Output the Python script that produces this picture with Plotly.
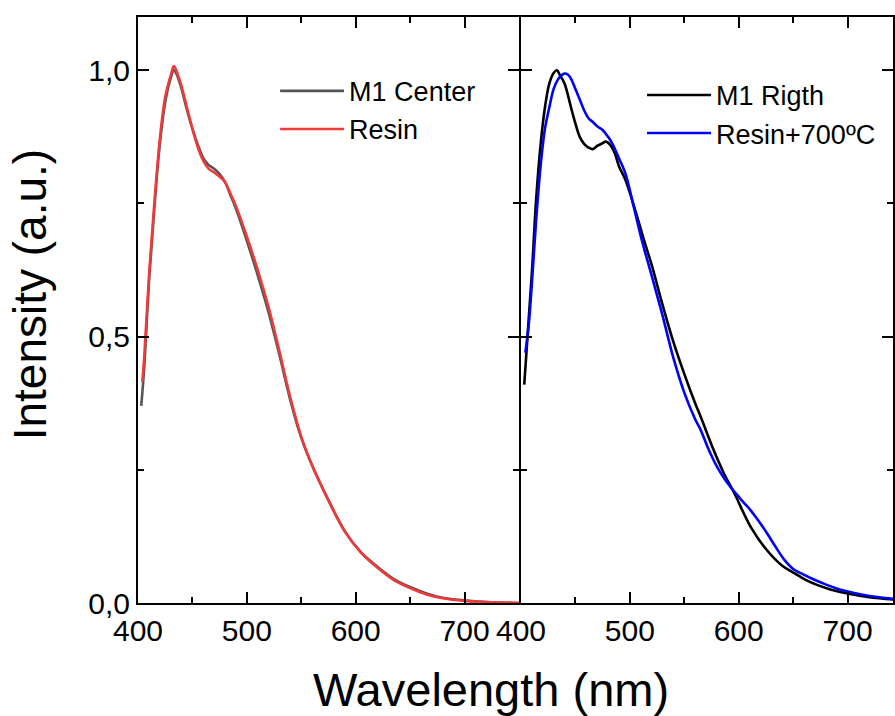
import plotly.graph_objects as go

# Photoluminescence spectra, left panel: centre sample vs. plain resin
wl_center = [403, 406, 410, 415, 420, 425, 430, 433, 436, 440, 445, 450, 455, 460,
             465, 470, 475, 480, 485, 490, 500, 510, 520, 530, 540, 550, 560, 575,
             590, 605, 620, 635, 650, 665, 680, 700, 720, 750]
m1_center = [0.37, 0.45, 0.60, 0.74, 0.86, 0.94, 0.985, 1.0, 0.99, 0.965, 0.925, 0.89,
             0.86, 0.835, 0.822, 0.815, 0.805, 0.79, 0.765, 0.74, 0.68, 0.615, 0.545,
             0.465, 0.38, 0.31, 0.258, 0.193, 0.135, 0.095, 0.068, 0.045, 0.03, 0.018,
             0.01, 0.005, 0.002, 0.0]

wl_resin = [404, 406, 410, 415, 420, 425, 430, 433, 436, 440, 445, 450, 455, 460,
            465, 470, 475, 480, 485, 490, 500, 510, 520, 530, 540, 550, 560, 575,
            590, 605, 620, 635, 650, 665, 680, 700, 720, 750]
resin = [0.415, 0.47, 0.61, 0.75, 0.87, 0.95, 0.99, 1.008, 0.995, 0.97, 0.93, 0.89,
         0.855, 0.83, 0.815, 0.808, 0.80, 0.79, 0.768, 0.745, 0.688, 0.625, 0.555,
         0.472, 0.385, 0.312, 0.258, 0.192, 0.134, 0.094, 0.066, 0.043, 0.028, 0.016,
         0.009, 0.004, 0.002, 0.0]

# Right panel: right-side sample vs. resin annealed at 700 ºC
wl_right = [403, 406, 410, 414, 418, 422, 426, 430, 433, 436, 440, 446, 450, 454,
            458, 462, 466, 470, 474, 478, 482, 486, 490, 496, 505, 513, 520, 530,
            540, 550, 560, 565, 577, 586, 596, 611, 626, 640, 651, 662, 672, 685,
            700, 720, 745]
m1_right = [0.41, 0.50, 0.62, 0.76, 0.86, 0.93, 0.975, 0.995, 1.0, 0.99, 0.975, 0.93,
            0.90, 0.875, 0.862, 0.855, 0.852, 0.858, 0.862, 0.866, 0.86, 0.845, 0.82,
            0.794, 0.737, 0.681, 0.635, 0.56, 0.49, 0.43, 0.375, 0.35, 0.287, 0.245,
            0.206, 0.143, 0.099, 0.07, 0.056, 0.043, 0.034, 0.025, 0.018, 0.011, 0.006]

wl_700 = [404, 407, 410, 414, 418, 422, 426, 430, 434, 437, 440, 443, 446, 450, 454,
          458, 462, 466, 470, 475, 480, 484, 490, 496, 504, 511, 520, 530, 540, 550,
          560, 565, 572, 580, 588, 596, 604, 611, 618, 626, 634, 642, 650, 657, 668,
          681, 692, 703, 720, 745]
resin_700 = [0.47, 0.52, 0.6, 0.72, 0.82, 0.89, 0.93, 0.965, 0.983, 0.99, 0.994, 0.992,
             0.984, 0.965, 0.945, 0.925, 0.91, 0.903, 0.895, 0.888, 0.875, 0.862,
             0.835, 0.806, 0.74, 0.681, 0.615, 0.54, 0.46, 0.395, 0.345, 0.325, 0.29,
             0.256, 0.23, 0.209, 0.19, 0.174, 0.155, 0.131, 0.105, 0.081, 0.064, 0.056,
             0.045, 0.034, 0.026, 0.02, 0.013, 0.007]

x_ticks = [400, 500, 600, 700]
x_tick_text = ["400", "500", "600", "700"]
y_ticks = [0.0, 0.5, 1.0]
y_tick_text = ["0,0", "0,5", "1,0"]

FONT = "Liberation Sans, Arial, sans-serif"
W, H = 895, 716
ML, MR, MT, MB = 138, 0, 17, 113
PW = W - ML - MR
PX_PER_NM = 382 / 350
split = (520 - ML) / PW
split2 = (522 - ML) / PW

fig = go.Figure()
fig.add_trace(go.Scatter(x=wl_center, y=m1_center, name="M1 Center", mode="lines",
                         line=dict(color="#555555", width=2.6, shape="spline"),
                         xaxis="x", yaxis="y", legend="legend"))
fig.add_trace(go.Scatter(x=wl_resin, y=resin, name="Resin", mode="lines",
                         line=dict(color="#f03a3a", width=2.6, shape="spline"),
                         xaxis="x", yaxis="y", legend="legend"))
fig.add_trace(go.Scatter(x=wl_right, y=m1_right, name="M1 Rigth", mode="lines",
                         line=dict(color="#000000", width=2.6, shape="spline"),
                         xaxis="x2", yaxis="y2", legend="legend2"))
fig.add_trace(go.Scatter(x=wl_700, y=resin_700, name="Resin+700ºC", mode="lines",
                         line=dict(color="#0000ff", width=2.6, shape="spline"),
                         xaxis="x2", yaxis="y2", legend="legend2"))

axis_common = dict(showline=True, linecolor="black", linewidth=2, mirror="ticks",
                   ticks="inside", ticklen=11, tickwidth=2, tickcolor="black",
                   showgrid=False, zeroline=False,
                   tickfont=dict(family=FONT, size=30, color="black"))

x_minor = dict(ticks="inside", ticklen=6, tickwidth=2, tickcolor="black",
               tick0=400, dtick=50, showgrid=False)
y_minor = dict(ticks="inside", ticklen=6, tickwidth=2, tickcolor="black",
               tick0=0, dtick=0.25, showgrid=False)

legend_common = dict(xanchor="left", yanchor="top", itemwidth=64,
                     bgcolor="rgba(0,0,0,0)", borderwidth=0,
                     font=dict(family=FONT, size=27, color="black"))

fig.update_layout(
    width=W, height=H,
    margin=dict(l=ML, r=MR, t=MT, b=MB),
    paper_bgcolor="white", plot_bgcolor="white",
    font=dict(family=FONT, color="black"),
    xaxis=dict(domain=[0, split], range=[400, 750], tickvals=x_ticks,
               ticktext=x_tick_text, minor=x_minor, anchor="y", **axis_common),
    yaxis=dict(domain=[0, 1], range=[0, 1.1], tickvals=y_ticks,
               ticktext=y_tick_text, minor=y_minor, anchor="x", **axis_common),
    xaxis2=dict(domain=[split2, 1], range=[400, 400 + (W - 522) / PX_PER_NM],
                tickvals=x_ticks, ticktext=x_tick_text, minor=x_minor,
                anchor="y2", **axis_common),
    yaxis2=dict(domain=[0, 1], range=[0, 1.1], tickvals=y_ticks,
                showticklabels=False, minor=y_minor, anchor="x2", **axis_common),
    legend=dict(x=0.1816, y=0.915, **legend_common),
    legend2=dict(x=0.6676, y=0.908, **legend_common),
    showlegend=True,
    annotations=[
        dict(text="Wavelength (nm)", xref="paper", yref="paper",
             x=(491.5 - ML) / PW, y=-(690 - 603) / (H - MT - MB),
             xanchor="center", yanchor="middle", showarrow=False,
             font=dict(family=FONT, size=47, color="black")),
        dict(text="Intensity (a.u.)", xref="paper", yref="paper", textangle=-90,
             x=(30 - ML) / PW, y=(603 - 295) / (H - MT - MB),
             xanchor="center", yanchor="middle", showarrow=False,
             font=dict(family=FONT, size=46, color="black")),
    ],
)

fig.write_html("out.html")
